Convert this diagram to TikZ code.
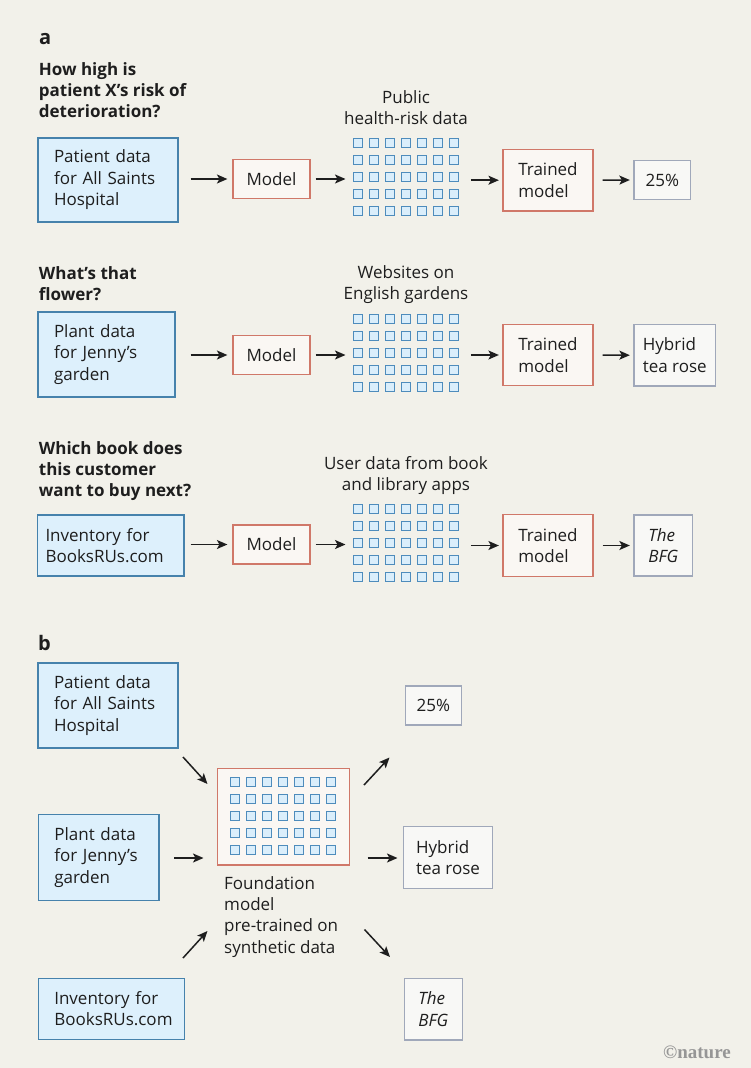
\documentclass[tikz,border=0pt]{standalone}
\usepackage{fontspec}
\setmainfont{Open Sans}
\newfontfamily\logofont{Liberation Serif}
\usetikzlibrary{arrows.meta,calc}
\definecolor{bg}{RGB}{242,241,234}
\definecolor{ink}{RGB}{30,30,30}
\definecolor{bluefill}{RGB}{221,240,252}
\definecolor{bluedraw}{RGB}{70,130,172}
\definecolor{redfill}{RGB}{250,247,243}
\definecolor{reddraw}{RGB}{208,120,105}
\definecolor{grayfill}{RGB}{248,248,246}
\definecolor{graydraw}{RGB}{160,168,186}
\definecolor{sqfill}{RGB}{218,238,251}
\definecolor{sqdraw}{RGB}{78,140,188}
\definecolor{logogray}{RGB}{150,150,150}
\newcommand\gridsq[2]{%
  \foreach \i in {0,...,6}{\foreach \j in {0,...,4}{%
    \draw[sq] ($(#1)+(16*\i-52.5,17*\j-38.5)+(0,#2)$) rectangle +(9,9);}}}
\begin{document}
\begin{tikzpicture}[x=1pt,y=-1pt,
  font=\fontsize{17}{21.5}\selectfont, text=ink,
  box/.style={draw, line width=1.2pt, align=left, inner sep=0pt},
  bluebox/.style={box, draw=bluedraw, fill=bluefill},
  redbox/.style={box, draw=reddraw, fill=redfill},
  graybox/.style={box, draw=graydraw, fill=grayfill},
  arr/.style={-{Stealth[length=10.5pt,width=9pt,inset=2.5pt]}, line width=1.5pt, draw=ink},
  sq/.style={draw=sqdraw, fill=sqfill, line width=0.9pt},
  ques/.style={font=\bfseries\fontsize{17}{21}\selectfont, align=left, anchor=north west, inner sep=0pt},
  lbl/.style={align=center, anchor=north, inner sep=0pt},
  gridnode/.style={minimum width=106pt, minimum height=78pt, inner sep=0pt},
  panel/.style={font=\bfseries\fontsize{20}{24}\selectfont, anchor=base west, inner sep=0pt}
]
\fill[bg] (0,0) rectangle (751,1068);
\useasboundingbox (0,0) rectangle (751,1068);

% ---------- panel a ----------
\node[panel] (pa) at (39,44) {a};

% row 1
\node[ques] (q1) at (38.7,62.5) {How high is\\patient X’s risk of\\deterioration?};
\node[bluebox, inner xsep=16pt, text width=108pt, minimum height=84pt] (b1) at (108,180) {Patient data\\for All Saints\\Hospital};
\node[redbox, minimum width=77pt, minimum height=39pt] (m1) at (271.5,179) {Model};
\node[gridnode] (g1) at (405.7,177) {};
\gridsq{g1.center}{0}
\node[lbl] (l1) at (406,90) {Public\\health-risk data};
\node[redbox, minimum width=90pt, minimum height=61.5pt] (t1) at (548,180.2) {Trained\\model};
\node[graybox, minimum width=56.7pt, minimum height=38.6pt] (o1) at (662.3,180) {25\%};
\draw[arr] ([xshift=12pt]b1.east |- m1.west) -- ([xshift=-5pt]m1.west);
\draw[arr] ([xshift=5pt]m1.east) -- ([xshift=-7pt]g1.west |- m1.east);
\draw[arr] ([xshift=12pt]g1.east |- t1.west) -- ([xshift=-3.5pt]t1.west);
\draw[arr] ([xshift=9pt]t1.east) -- ([xshift=-3.5pt]o1.west);

% row 2
\node[ques] (q2) at (38.7,266) {What’s that\\flower?};
\node[bluebox, inner xsep=16pt, text width=105pt, minimum height=85pt] (b2) at (106.5,354.5) {Plant data\\for Jenny’s\\garden};
\node[redbox, minimum width=77pt, minimum height=39pt] (m2) at (271.5,355) {Model};
\node[gridnode] (g2) at (405.7,353) {};
\gridsq{g2.center}{0}
\node[lbl] (l2) at (406,265) {Websites on\\English gardens};
\node[redbox, minimum width=90pt, minimum height=61.5pt] (t2) at (548,355) {Trained\\model};
\node[graybox, minimum width=81.7pt, minimum height=61.7pt] (o2) at (674.8,355.2) {Hybrid\\tea rose};
\draw[arr] ([xshift=15pt]b2.east |- m2.west) -- ([xshift=-5pt]m2.west);
\draw[arr] ([xshift=5pt]m2.east) -- ([xshift=-7pt]g2.west |- m2.east);
\draw[arr] ([xshift=12pt]g2.east |- t2.west) -- ([xshift=-3.5pt]t2.west);
\draw[arr] ([xshift=9pt]t2.east) -- ([xshift=-3.5pt]o2.west);

% row 3
\node[ques] (q3) at (38.7,441) {Which book does\\this customer\\want to buy next?};
\node[bluebox, inner xsep=8pt, text width=130.5pt, minimum height=61pt] (b3) at (110.75,545.5) {Inventory for\\BooksRUs.com};
\node[redbox, minimum width=77pt, minimum height=39pt] (m3) at (271.5,544.5) {Model};
\node[gridnode] (g3) at (405.7,543) {};
\gridsq{g3.center}{0}
\node[lbl] (l3) at (406,456) {User data from book\\and library apps};
\node[redbox, minimum width=90pt, minimum height=61.5pt] (t3) at (548,545.5) {Trained\\model};
\node[graybox, minimum width=58.7pt, minimum height=61pt] (o3) at (663.3,545.5) {\itshape The\\\itshape BFG};
\draw[arr] ([xshift=6pt]b3.east |- m3.west) -- ([xshift=-5pt]m3.west);
\draw[arr] ([xshift=5pt]m3.east) -- ([xshift=-7pt]g3.west |- m3.east);
\draw[arr] ([xshift=12pt]g3.east |- t3.west) -- ([xshift=-3.5pt]t3.west);
\draw[arr] ([xshift=9pt]t3.east) -- ([xshift=-3.5pt]o3.west);

% ---------- panel b ----------
\node[panel] (pb) at (38,650) {b};
\node[bluebox, inner xsep=16pt, text width=108pt, minimum height=85pt] (bb1) at (108,705.5) {Patient data\\for All Saints\\Hospital};
\node[bluebox, inner xsep=16pt, text width=88.7pt, minimum height=86.4pt] (bb2) at (98.7,857.5) {Plant data\\for Jenny’s\\garden};
\node[bluebox, inner xsep=16pt, text width=114pt, minimum height=61pt] (bb3) at (111.3,1008.8) {Inventory for\\BooksRUs.com};
\node[redbox, minimum width=132pt, minimum height=96.7pt] (fm) at (283.3,816.7) {};
\gridsq{fm.center}{-0.7}
\node[ques, font=\fontsize{17}{21.3}\selectfont] (fl) at (224,876) {Foundation\\model\\pre-trained on\\synthetic data};
\node[graybox, minimum width=56pt, minimum height=39pt] (ob1) at (433.3,705.5) {25\%};
\node[graybox, minimum width=89.4pt, minimum height=61.6pt] (ob2) at (448,857.5) {Hybrid\\tea rose};
\node[graybox, minimum width=58pt, minimum height=61.7pt] (ob3) at (433.3,1009.2) {\itshape The\\\itshape BFG};

\coordinate (ai1s) at (183,757);
\coordinate (ai1e) at (207.5,784);
\coordinate (ai2s) at (174,858);
\coordinate (ai2e) at (203.5,858);
\coordinate (ai3s) at (183,958);
\coordinate (ai3e) at (207.5,931);
\coordinate (ao1s) at (364,785);
\coordinate (ao1e) at (389.5,757.5);
\coordinate (ao2s) at (367.5,858);
\coordinate (ao2e) at (397.5,858);
\coordinate (ao3s) at (364.5,929.5);
\coordinate (ao3e) at (390,957);
\draw[arr] (ai1s) -- (ai1e);
\draw[arr] (ai2s) -- (ai2e);
\draw[arr] (ai3s) -- (ai3e);
\draw[arr] (ao1s) -- (ao1e);
\draw[arr] (ao2s) -- (ao2e);
\draw[arr] (ao3s) -- (ao3e);

\node[anchor=base east, inner sep=0pt, text=logogray, font=\logofont\bfseries\fontsize{19}{20}\selectfont] (logo) at (731,1058) {©nature};
\end{tikzpicture}
\end{document}
